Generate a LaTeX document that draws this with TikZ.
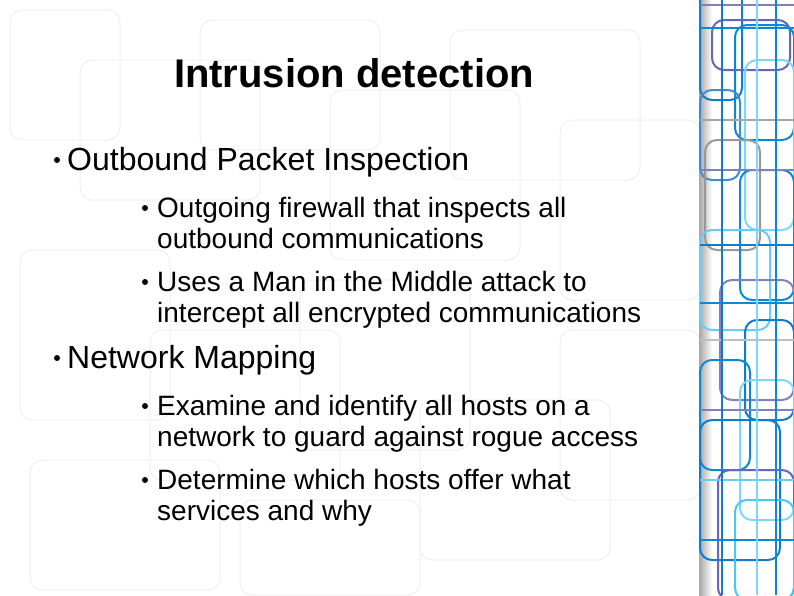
\documentclass[tikz,border=0pt]{standalone}
\usepackage{fontspec}
\setmainfont{Liberation Sans}
\begin{document}
\begin{tikzpicture}[x=1pt,y=-1pt,
  lvl/.style={anchor=base west,inner sep=0pt,font=\fontsize{32}{36}\selectfont,align=left},
  sub/.style={anchor=base west,inner sep=0pt,font=\fontsize{28}{31}\selectfont,align=left},
  dot/.style={circle,fill=black,inner sep=0pt,minimum size=6pt},
  deco/.style={rounded corners=12pt,line width=2pt},
  faint/.style={rounded corners=12pt,line width=1pt,draw=black!6}]
\useasboundingbox (0,0) rectangle (794,595);
\fill[white] (0,0) rectangle (794,595);
% faint background pattern
\foreach \a/\b/\c/\d in {10/10/120/140, 80/60/260/200, 200/20/380/150, 330/90/520/260, 450/30/640/180, 560/120/700/300, 20/250/170/420, 150/330/340/480, 300/280/470/450, 420/400/610/560, 560/330/700/500, 30/460/220/590, 240/500/420/595}
  \draw[faint] (\a,\b) rectangle (\c,\d);
% right strip
\shade[left color=black!35,right color=white] (699,0) rectangle (712,595);
\fill[white] (712,0) rectangle (794,595);
\foreach \a/\b/\c/\d/\col in {700/-20/742/100/cyan!60!blue, 712/20/790/70/blue!50!black!60, 735/25/794/140/cyan!70!blue, 745/60/794/230/cyan!50, 700/90/740/180/cyan!60!blue!80, 705/140/760/250/black!40, 740/170/794/300/cyan!70!blue, 700/230/770/330/cyan!60, 720/280/794/400/blue!50!black!50, 745/320/794/420/cyan!60!blue, 700/360/750/470/cyan!70!blue, 740/380/794/520/cyan!50, 700/420/780/560/cyan!60!blue, 718/470/794/600/blue!60!black!60, 735/500/794/600/cyan!70}
  \draw[deco,draw=\col] (\a,\b) rectangle (\c,\d);
\foreach \y/\col in {5/blue!40!black!50, 28/cyan!70!blue, 120/black!35, 170/blue!50!black!50, 245/cyan!60!blue, 303/cyan!70!blue, 340/black!25, 410/blue!50!black!50, 480/cyan!60, 540/cyan!70!blue}
  \draw[line width=1.5pt,draw=\col] (700,\y) -- (794,\y);
\foreach \x/\col in {722/cyan!60!blue, 757/cyan!50, 776/cyan!70!blue}
  \draw[line width=1.5pt,draw=\col] (\x,0) -- (\x,595);
% text
\node[anchor=base,inner sep=0pt,font=\bfseries\fontsize{40}{44}\selectfont] (title) at (354,87) {Intrusion detection};
\node[dot] (b1) at (57,160) {};
\node[lvl] (t1) at (67,170) {Outbound Packet Inspection};
\node[dot] (b11) at (145,208) {};
\node[sub] (t11) at (157,248) {Outgoing firewall that inspects all\\outbound communications};
\node[dot] (b12) at (145,282) {};
\node[sub] (t12) at (157,322) {Uses a Man in the Middle attack to\\intercept all encrypted communications};
\node[dot] (b2) at (57,358) {};
\node[lvl] (t2) at (67,368) {Network Mapping};
\node[dot] (b21) at (145,406) {};
\node[sub] (t21) at (157,446) {Examine and identify all hosts on a\\network to guard against rogue access};
\node[dot] (b22) at (145,480) {};
\node[sub] (t22) at (157,520) {Determine which hosts offer what\\services and why};
\end{tikzpicture}
\end{document}
